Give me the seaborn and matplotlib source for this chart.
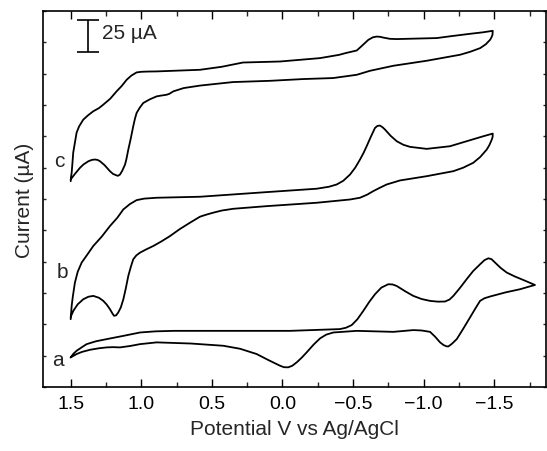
import matplotlib
matplotlib.use("Agg")
import matplotlib.pyplot as plt
import seaborn as sns
import pandas as pd
from matplotlib.ticker import MultipleLocator

# ---- data (potential in V, current in uA, arbitrary offset) ----
c_E = [1.500, 1.497, 1.493, 1.488, 1.482, 1.470, 1.458, 1.440, 1.411, 1.380, 1.340, 1.300,
       1.269, 1.220, 1.174, 1.140, 1.103, 1.070, 1.033, 1.000, 0.950, 0.891, 0.584, 0.430,
       0.280, 0.018, -0.265, -0.400, -0.450, -0.526, -0.570, -0.608, -0.640, -0.667, -0.690,
       -0.714, -0.760, -0.809, -0.950, -1.092, -1.200, -1.328, -1.420, -1.489,
       -1.487, -1.480, -1.470, -1.440, -1.400, -1.330, -1.258, -1.021, -0.785, -0.620,
       -0.526, -0.358, -0.147, 0.088, 0.350, 0.584, 0.700, 0.773, 0.800, 0.820, 0.860,
       0.891, 0.940, 0.986, 1.010, 1.033, 1.045, 1.057, 1.075, 1.092, 1.105, 1.115, 1.135,
       1.151, 1.165, 1.174, 1.200, 1.222, 1.260, 1.292, 1.310, 1.328, 1.350, 1.375, 1.410,
       1.434, 1.470, 1.500]
c_I = [164.2, 168.0, 171.0, 178.0, 187.0, 195.0, 203.0, 208.0, 213.3, 216.5, 220.0, 222.5,
       225.3, 230.0, 236.0, 240.0, 245.2, 248.5, 251.0, 251.5, 251.7, 251.8, 253.1, 255.5,
       258.9, 259.7, 262.4, 265.0, 266.5, 268.5, 273.0, 277.0, 279.0, 279.6, 279.4,
       278.8, 277.8, 277.6, 278.0, 278.4, 280.0, 281.8, 283.0, 284.2,
       281.0, 279.0, 277.0, 273.5, 270.4, 267.5, 265.1, 260.3, 256.3, 252.3,
       249.1, 246.5, 245.7, 244.3, 243.3, 240.5, 238.5, 235.9, 234.0, 233.2, 232.5,
       231.9, 229.5, 226.6, 223.0, 218.7, 214.0, 208.0, 198.0, 189.4, 182.0, 177.5, 172.5,
       169.5, 168.5, 168.8, 170.0, 172.2, 177.0, 180.1, 181.2, 181.5, 181.2, 180.1, 177.5,
       174.9, 170.0, 165.6]

b_E = [1.500, 1.497, 1.493, 1.485, 1.470, 1.450, 1.422, 1.380, 1.340, 1.280, 1.222, 1.170,
       1.127, 1.080, 1.033, 0.980, 0.891, 0.584, 0.112, -0.242, -0.330, -0.384, -0.430,
       -0.478, -0.515, -0.549, -0.575, -0.596, -0.625, -0.655, -0.672, -0.690, -0.708,
       -0.726, -0.765, -0.809, -0.855, -0.903, -1.021, -1.186, -1.328, -1.420, -1.489,
       -1.488, -1.482, -1.465, -1.446, -1.400, -1.351, -1.280, -1.210, -1.021, -0.832,
       -0.738, -0.690, -0.643, -0.600, -0.549, -0.478, -0.242, 0.112, 0.348, 0.430, 0.490,
       0.540, 0.584, 0.655, 0.730, 0.797, 0.860, 0.915, 0.965, 1.009, 1.035, 1.057, 1.075,
       1.092, 1.110, 1.127, 1.145, 1.163, 1.178, 1.193, 1.205, 1.222, 1.245, 1.269, 1.300,
       1.340, 1.375, 1.411, 1.450, 1.480, 1.500]
b_I = [54.1, 59.0, 64.7, 72.0, 83.3, 92.0, 99.3, 106.0, 112.5, 120.0, 128.4, 135.0,
       141.7, 146.0, 149.1, 150.3, 151.0, 151.8, 155.5, 158.2, 159.8, 161.6, 164.5,
       169.5, 175.0, 181.5, 187.0, 192.1, 199.5, 206.7, 208.3, 208.6, 207.3,
       205.4, 200.5, 196.1, 193.3, 191.6, 190.0, 192.1, 196.9, 200.0, 202.2,
       199.5, 197.4, 193.0, 189.4, 183.5, 178.9, 175.0, 172.2, 168.2, 164.8,
       161.6, 159.0, 156.3, 153.5, 151.0, 149.6, 147.0, 144.3, 142.2, 140.8, 139.1,
       137.5, 135.9, 131.1, 125.8, 120.4, 116.0, 112.5, 109.8, 107.2, 105.0, 101.9, 95.5,
       88.6, 78.5, 70.0, 63.5, 59.5, 57.2, 56.8, 58.8, 62.1, 65.8, 68.7, 71.2,
       72.7, 72.0, 70.0, 66.0, 61.0, 56.0]

a_E = [1.500, 1.480, 1.458, 1.420, 1.387, 1.320, 1.245, 1.127, 1.009, 0.900, 0.773, -0.053,
       -0.407, -0.450, -0.490, -0.530, -0.572, -0.615, -0.655, -0.700, -0.749, -0.780,
       -0.809, -0.870, -0.926, -0.985, -1.045, -1.100, -1.151, -1.183, -1.210, -1.255,
       -1.304, -1.350, -1.399, -1.430, -1.458, -1.480, -1.505, -1.545, -1.588, -1.645,
       -1.705, -1.788,
       -1.740, -1.682, -1.580, -1.470, -1.430, -1.399, -1.365, -1.328, -1.280, -1.234,
       -1.200, -1.175, -1.163, -1.140, -1.116, -1.080, -1.045, -0.985, -0.926, -0.785,
       -0.526, -0.360, -0.310, -0.266, -0.220, -0.171, -0.135, -0.101, -0.070, -0.041,
       -0.010, 0.018, 0.100, 0.183, 0.300, 0.419, 0.650, 0.891, 1.009, 1.080, 1.151,
       1.200, 1.245, 1.300, 1.363, 1.420, 1.458, 1.500]
a_I = [23.6, 26.6, 28.9, 31.8, 34.2, 36.5, 38.2, 40.8, 43.5, 44.4, 44.8, 44.8,
       46.2, 47.3, 49.4, 54.0, 60.7, 68.0, 74.0, 79.3, 82.0, 81.8,
       80.6, 76.3, 72.7, 70.2, 68.7, 68.1, 68.2, 69.8, 72.7, 78.8,
       86.0, 92.5, 97.9, 101.2, 102.7, 102.0, 99.3, 95.0, 91.3, 88.2,
       85.4, 81.4,
       79.9, 78.0, 75.5, 72.2, 70.8, 68.7, 62.5, 55.5, 46.5, 38.2,
       34.5, 32.4, 32.4, 33.5, 35.6, 40.2, 44.0, 45.1, 45.4, 44.0,
       44.8, 43.5, 41.8, 38.8, 33.8, 27.6, 23.3, 19.7, 17.0, 15.7,
       15.8, 17.0, 21.5, 26.3, 30.5, 32.9, 34.7, 35.6, 34.2, 32.7, 31.6,
       31.8, 31.6, 30.9, 29.7, 28.0, 26.3, 23.6]

curve_labels = ["a", "b", "c"]
x_ticks = [1.5, 1.0, 0.5, 0.0, -0.5, -1.0, -1.5]
scale_bar_uA = 25

sns.set_theme(style="ticks")
plt.rcParams['font.family'] = ['Liberation Sans', 'DejaVu Sans']

fig = plt.figure(figsize=(5.47, 4.52), dpi=100)
ax = fig.add_axes([43/547, 64/452, 503/547, 376/452])

for E, I in [(a_E, a_I), (b_E, b_I), (c_E, c_I)]:
    df = pd.DataFrame({"E": E, "I": I})
    sns.lineplot(data=df, x="E", y="I", sort=False, estimator=None,
                 color="black", linewidth=1.3, ax=ax)

ax.set_xlim(1.696, -1.866)
ax.set_ylim(0, 300)
ax.set_xticks(x_ticks)
ax.set_xticklabels([f"{t:.1f}".replace("-", "\u2212") for t in x_ticks])
ax.xaxis.set_minor_locator(MultipleLocator(0.25))
ax.yaxis.set_major_locator(MultipleLocator(25))
ax.set_yticklabels([])
ax.tick_params(axis="x", which="major", direction="in", length=6, width=1, top=True,
               labelsize=14, pad=6, colors="black")
ax.tick_params(axis="x", which="minor", direction="in", length=3.5, width=1, top=True)
ax.tick_params(axis="y", which="major", direction="in", length=2.5, width=1, right=True)
for s in ax.spines.values():
    s.set_linewidth(1.2)
    s.set_color("black")

ax.set_xlabel("Potential V vs Ag/AgCl", fontsize=15, labelpad=5)
ax.set_ylabel("Current (\u00b5A)", fontsize=15, labelpad=3)

# curve labels
ax.text(1.58, 181, curve_labels[2], fontsize=15, ha="center", va="center")
ax.text(1.56, 92, curve_labels[1], fontsize=15, ha="center", va="center")
ax.text(1.59, 22, curve_labels[0], fontsize=15, ha="center", va="center")

# scale bar
ax.errorbar([1.375], [280], yerr=[[scale_bar_uA/2], [scale_bar_uA/2]], fmt="none",
            ecolor="black", elinewidth=1.2, capsize=8, capthick=1.2)
ax.text(1.28, 282.5, f"{scale_bar_uA} \u00b5A", fontsize=15, ha="left", va="center")

fig.savefig("out.png", dpi=100)
